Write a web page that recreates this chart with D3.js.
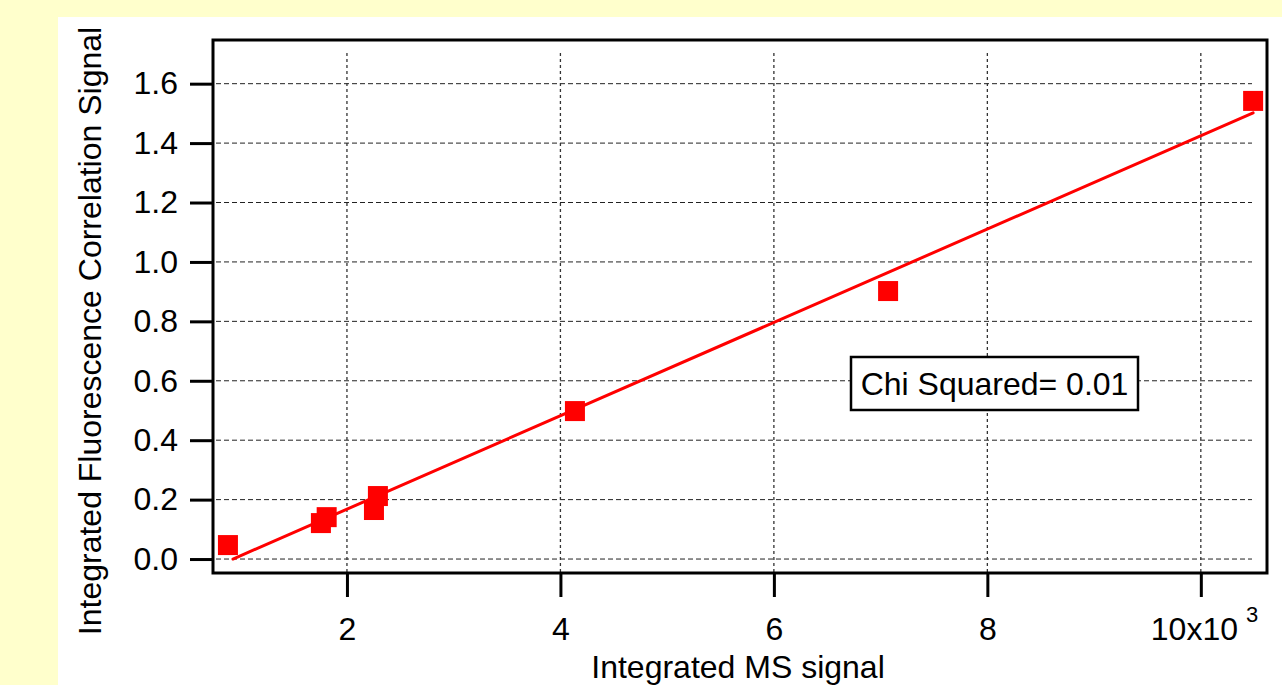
<!DOCTYPE html>
<html><head><meta charset="utf-8">
<script src="https://cdn.jsdelivr.net/npm/d3@7"></script>
<style>
html,body{margin:0;padding:0;background:#FFFFCC;}
svg{display:block;}
text{font-family:"Liberation Sans",Arial,sans-serif;fill:#000;}
</style></head>
<body>
<svg id="chart" width="1282" height="685"></svg>
<script>
// Data (x in units of 10^3)
const msSignal   = [0.885, 1.756, 1.81, 2.253, 2.29, 4.136, 7.07, 10.49];
const fluorSignal= [0.047, 0.121, 0.141, 0.165, 0.212, 0.498, 0.902, 1.542];
const fitX = [0.932, 10.49];
const fitY = [0.0, 1.502];
const xTicks = [2, 4, 6, 8, 10];
const yTicks = [0.0, 0.2, 0.4, 0.6, 0.8, 1.0, 1.2, 1.4, 1.6];
const xTitle = "Integrated MS signal";
const yTitle = "Integrated Fluorescence Correlation Signal";
const annotation = "Chi Squared= 0.01";
const FS = 32;

const svg = d3.select("#chart");
// white panel
svg.append("rect").attr("x",58).attr("y",17).attr("width",1282-58).attr("height",685-17).attr("fill","#fff");

const L=213,R=1267,T=40,B=573;
const x = d3.scaleLinear().domain([0.745,10.62]).range([L,R]);
const y = d3.scaleLinear().domain([-0.047,1.747]).range([B,T]);

// grid
const g = svg.append("g");
g.selectAll("line.hg").data(yTicks).join("line")
  .attr("x1",216).attr("x2",1252)
  .attr("y1",d=>y(d)).attr("y2",d=>y(d))
  .attr("stroke","#222").attr("stroke-width",1).attr("stroke-dasharray","5,3");
g.selectAll("line.vg").data(xTicks).join("line")
  .attr("x1",d=>x(d)).attr("x2",d=>x(d))
  .attr("y1",53).attr("y2",B)
  .attr("stroke","#333").attr("stroke-width",1.3).attr("stroke-dasharray","3,3");

// y axis ticks
const ya = svg.append("g").attr("transform",`translate(${L},0)`)
  .call(d3.axisLeft(y).tickValues(yTicks).tickFormat(d3.format(".1f")).tickSize(23).tickPadding(12));
ya.select(".domain").remove();
ya.selectAll(".tick line").attr("stroke","#000").attr("stroke-width",3);
ya.selectAll(".tick text").attr("font-size",FS).attr("font-family","Liberation Sans, Arial, sans-serif").attr("fill","#000");

// x axis ticks
const xa = svg.append("g").attr("transform",`translate(0,${B})`)
  .call(d3.axisBottom(x).tickValues(xTicks).tickSize(24).tickPadding(20).tickFormat(d=>d===10?"":d));
xa.select(".domain").remove();
xa.selectAll(".tick line").attr("stroke","#000").attr("stroke-width",3);
xa.selectAll(".tick text").attr("font-size",FS).attr("font-family","Liberation Sans, Arial, sans-serif").attr("fill","#000");
// 10x10^3 label
const lastT = svg.append("text").attr("x",x(10)-50).attr("y",640).attr("text-anchor","start").attr("font-size",FS);
lastT.append("tspan").text("10x10");
lastT.append("tspan").attr("dx",8).attr("dy",-18).attr("font-size",22).text("3");

// frame
svg.append("rect").attr("x",L).attr("y",T).attr("width",R-L).attr("height",B-T)
  .attr("fill","none").attr("stroke","#000").attr("stroke-width",3);

// fit line
svg.append("line").attr("x1",x(fitX[0])).attr("y1",y(fitY[0])).attr("x2",x(fitX[1])).attr("y2",y(fitY[1]))
  .attr("stroke","#ff0000").attr("stroke-width",3).attr("stroke-linecap","round");

// points
const pts = msSignal.map((v,i)=>({x:v,y:fluorSignal[i]}));
svg.selectAll("rect.pt").data(pts).join("rect")
  .attr("x",d=>x(d.x)-10).attr("y",d=>y(d.y)-10).attr("width",20).attr("height",20).attr("fill","#ff0000");

// annotation box
svg.append("rect").attr("x",851).attr("y",357).attr("width",287).attr("height",53)
  .attr("fill","#fff").attr("stroke","#000").attr("stroke-width",2.5);
svg.append("text").attr("x",994.5).attr("y",395).attr("text-anchor","middle").attr("font-size",FS).text(annotation);

// titles
svg.append("text").attr("x",738).attr("y",678).attr("text-anchor","middle").attr("font-size",FS).text(xTitle);
svg.append("text").attr("transform","translate(101,331) rotate(-90)").attr("text-anchor","middle").attr("font-size",FS).text(yTitle);
</script>
</body></html>
